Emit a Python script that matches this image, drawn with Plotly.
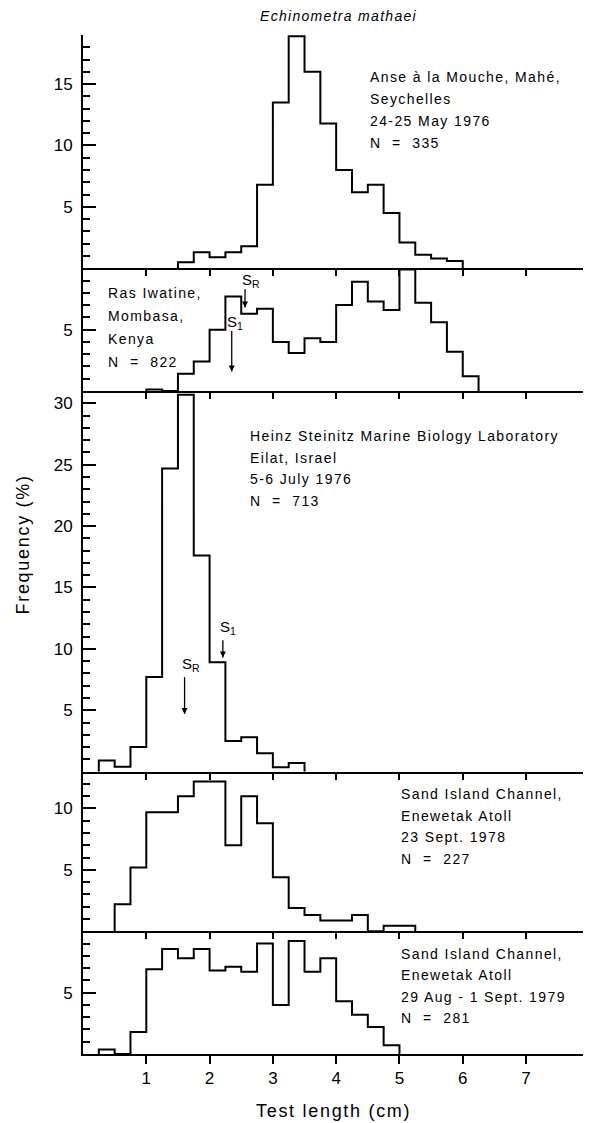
import plotly.graph_objects as go
from plotly.subplots import make_subplots

# Size-frequency distributions of Echinometra mathaei, 0.25 cm size classes
BIN = 0.25

anse_start = 1.5
anse_freq = [0.5, 1.3, 0.9, 1.3, 1.8, 6.8, 13.5, 18.9, 16.0, 11.8, 8.0, 6.2, 6.8,
             4.5, 2.1, 1.1, 0.8, 0.6]

ras_start = 1.0
ras_freq = [0.12, 0, 1.4, 2.4, 5.0, 7.7, 6.3, 6.7, 4.0, 3.1, 4.3, 4.0, 7.0, 8.9,
            7.3, 6.6, 9.9, 7.2, 5.6, 3.2, 1.2]

eilat_start = 0.25
eilat_freq = [0.9, 0.4, 2.0, 7.7, 24.7, 30.7, 17.6, 8.9, 2.5, 2.8, 1.5, 0.35, 0.7]

sand78_start = 0.5
sand78_freq = [2.2, 5.2, 9.7, 9.7, 11.0, 12.2, 12.2, 7.0, 11.0, 8.8, 4.4, 1.9,
               1.32, 0.88, 0.88, 1.32, 0, 0.44, 0.44]

sand79_start = 0.25
sand79_freq = [0.36, 0, 1.8, 6.9, 8.55, 7.8, 8.55, 6.8, 7.1, 6.7, 9.0, 4.0, 9.2,
               6.7, 7.8, 4.3, 3.2, 2.2, 0.71]

y_max = [19, 10, 31, 13, 10]
y_ticks = [[5, 10, 15], [5], [5, 10, 15, 20, 25, 30], [5, 10], [5]]
x_ticks = [1, 2, 3, 4, 5, 6, 7]

site_labels = [
    ["Anse à la Mouche, Mahé,", "Seychelles", "24-25 May 1976", "N  =  335"],
    ["Ras Iwatine,", "Mombasa,", "Kenya", "N  =  822"],
    ["Heinz Steinitz Marine Biology Laboratory", "Eilat, Israel", "5-6 July 1976", "N  =  713"],
    ["Sand Island Channel,", "Enewetak Atoll", "23 Sept. 1978", "N  =  227"],
    ["Sand Island Channel,", "Enewetak Atoll", "29 Aug - 1 Sept. 1979", "N  =  281"],
]
label_x = [4.5, 0.37, 2.6, 4.99, 4.99]
label_y = [15.55, 7.95, 27.3, 11.15, 8.15]
label_step = [1.78, 1.85, 1.75, 1.75, 1.75]

# size-at-maturity markers: (panel, name, label x, label y, arrow x, tail y, head y)
markers = [
    (2, "S<sub>R</sub>", 2.65, 9.0, 2.56, 8.3, 6.8),
    (2, "S<sub>1</sub>", 2.40, 5.55, 2.35, 4.9, 1.6),
    (3, "S<sub>R</sub>", 1.70, 8.7, 1.605, 7.7, 4.7),
    (3, "S<sub>1</sub>", 2.29, 11.7, 2.21, 10.7, 9.3),
]

series = [
    (anse_start, anse_freq),
    (ras_start, ras_freq),
    (eilat_start, eilat_freq),
    (sand78_start, sand78_freq),
    (sand79_start, sand79_freq),
]

FONT = "Liberation Sans, Arial, Helvetica, sans-serif"


def spaced(text, px=1.4):
    return f"<span style='letter-spacing:{px}px'>{text}</span>"


fig = make_subplots(rows=5, cols=1, row_heights=y_max, vertical_spacing=0)

for i, (start, freq) in enumerate(series, start=1):
    edges = [start + BIN * k for k in range(len(freq) + 1)]
    xs = [edges[0]] + edges
    ys = [0] + list(freq) + [0]
    fig.add_trace(
        go.Scatter(x=xs, y=ys, mode="lines", line=dict(color="black", width=2, shape="hv"),
                   showlegend=False, hoverinfo="skip"),
        row=i, col=1,
    )
    fig.update_xaxes(
        range=[0, 7.9], showline=True, linecolor="black", linewidth=2,
        ticks="outside", tickvals=x_ticks, ticklen=8 if i == 5 else 6, tickwidth=1.5,
        tickcolor="black", showticklabels=(i == 5), showgrid=False, zeroline=False,
        tickfont=dict(family=FONT, size=17, color="black"),
        row=i, col=1,
    )
    fig.update_yaxes(
        range=[0, y_max[i - 1]], showline=True, linecolor="black", linewidth=2,
        ticks="inside", tickvals=y_ticks[i - 1], ticklen=13, tickwidth=1.5,
        tickcolor="black", showgrid=False, zeroline=False,
        minor=dict(ticks="inside", dtick=1, tick0=0, ticklen=7, tickwidth=1.5,
                   tickcolor="black", showgrid=False),
        tickfont=dict(family=FONT, size=17, color="black"),
        ticklabelstandoff=5,
        row=i, col=1,
    )

    sfx = "" if i == 1 else str(i)
    for j, line in enumerate(site_labels[i - 1]):
        fig.add_annotation(
            x=label_x[i - 1], y=label_y[i - 1] - j * label_step[i - 1],
            xref="x" + sfx, yref="y" + sfx, text=spaced(line), showarrow=False,
            xanchor="left", yanchor="middle",
            font=dict(family=FONT, size=14, color="black"),
        )

for panel, name, lx, ly, ax, tail, head in markers:
    sfx = str(panel)
    fig.add_annotation(
        x=lx, y=ly, xref="x" + sfx, yref="y" + sfx, text=name, showarrow=False,
        xanchor="center", yanchor="middle",
        font=dict(family=FONT, size=15, color="black"),
    )
    # arrow shaft
    fig.add_trace(
        go.Scatter(x=[ax, ax], y=[tail, head], mode="lines",
                   line=dict(color="black", width=1.3),
                   showlegend=False, hoverinfo="skip"),
        row=panel, col=1,
    )
    # arrow head, tip placed on the head point
    fig.add_trace(
        go.Scatter(x=[ax], y=[head], mode="markers",
                   marker=dict(symbol="arrow-down", size=6, color="black",
                               line=dict(width=0)),
                   showlegend=False, hoverinfo="skip", cliponaxis=False),
        row=panel, col=1,
    )

fig.add_annotation(
    x=0.51, y=1.0186, xref="paper", yref="paper", showarrow=False,
    text=spaced("<i>Echinometra mathaei</i>", 1.3),
    font=dict(family=FONT, size=14, color="black"), xanchor="center", yanchor="middle",
)
fig.add_annotation(
    x=-0.122, y=0.5, xref="paper", yref="paper", showarrow=False, textangle=-90,
    text=spaced("Frequency (%)", 1.7),
    font=dict(family=FONT, size=18, color="black"), xanchor="center", yanchor="middle",
)
fig.add_annotation(
    x=0.5, y=-0.056, xref="paper", yref="paper", showarrow=False,
    text=spaced("Test length (cm)", 1.7),
    font=dict(family=FONT, size=18, color="black"), xanchor="center", yanchor="middle",
)

fig.update_layout(
    width=591, height=1123,
    margin=dict(l=83, r=8, t=35, b=69),
    paper_bgcolor="white", plot_bgcolor="white",
    font=dict(family=FONT, color="black"),
    showlegend=False,
)

fig.write_html("out.html")
